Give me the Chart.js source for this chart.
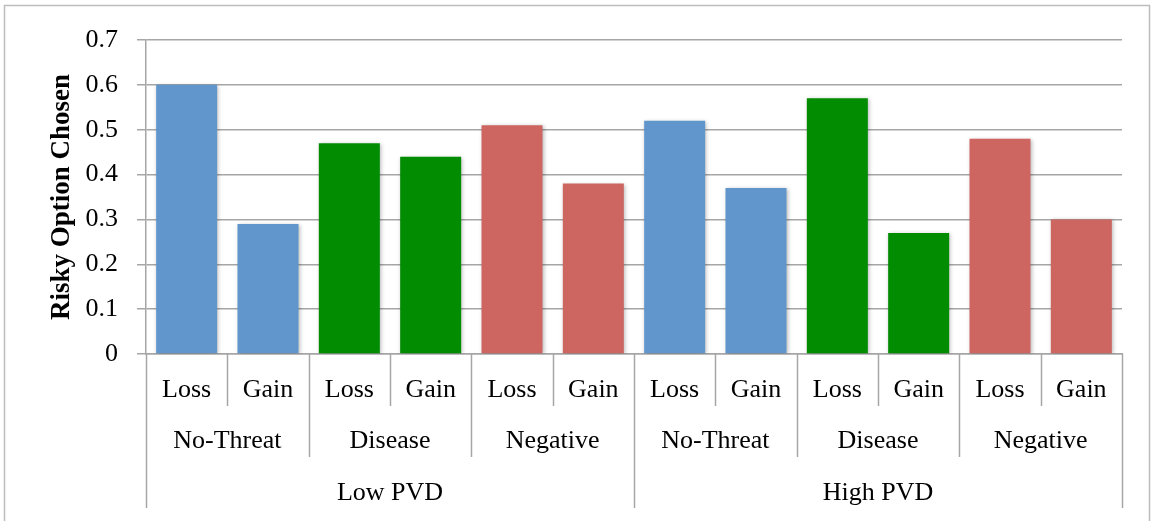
<!DOCTYPE html>
<html>
<head>
<meta charset="utf-8">
<script src="https://cdn.jsdelivr.net/npm/chart.js@4.4.1/dist/chart.umd.min.js"></script>
<style>
  html, body { margin: 0; padding: 0; background: #fff; }
  #wrap { width: 1154px; height: 521px; position: relative; }
</style>
</head>
<body>
<div id="wrap"><canvas id="riskChart"></canvas></div>
<script>
// data
const subLabels = ['Loss', 'Gain', 'Loss', 'Gain', 'Loss', 'Gain', 'Loss', 'Gain', 'Loss', 'Gain', 'Loss', 'Gain']
const groupLabels = ['No-Threat', 'Disease', 'Negative', 'No-Threat', 'Disease', 'Negative']
const pvdLabels = ['Low PVD', 'High PVD']
const riskyChosen = [0.60, 0.29, 0.47, 0.44, 0.51, 0.38, 0.52, 0.37, 0.57, 0.27, 0.48, 0.30]

const groupColors = ['#6096CB', '#018C02', '#CD6661']
const lineGray = '#A6A6A6'
const labelFont = '26px "Liberation Serif", serif'

// draws the 3 rows of category labels under the axis + the separators
const multiLevelAxis = {
  id: 'multiLevelAxis',
  beforeDraw(chart) {
    const ctx = chart.ctx
    ctx.save()
    ctx.strokeStyle = '#BDBDBD'
    ctx.lineWidth = 1.5
    ctx.strokeRect(4.5, 5.5, 1145, 530)
    ctx.restore()
  },
  beforeDatasetsDraw(chart) {
    const ctx = chart.ctx
    ctx.save()
    ctx.shadowColor = 'rgba(0,0,0,0.28)'
    ctx.shadowBlur = 4
    ctx.shadowOffsetX = 1
    ctx.shadowOffsetY = 1
  },
  afterDatasetsDraw(chart) {
    chart.ctx.restore()
  },
  afterDraw(chart) {
    const ctx = chart.ctx
    const area = chart.chartArea
    const x = chart.scales.x
    const n = subLabels.length
    const w = (area.right - area.left) / n
    const groupSpan = n / groupLabels.length
    const pvdSpan = n / pvdLabels.length

    ctx.save()
    ctx.strokeStyle = lineGray
    ctx.lineWidth = 1.5
    for (let k = 0; k <= n; k++) {
      const bx = Math.round(area.left + k * w) + 0.5
      let depth = 406
      if (k % pvdSpan === 0) depth = 508
      else if (k % groupSpan === 0) depth = 457
      ctx.beginPath()
      ctx.moveTo(bx, area.bottom)
      ctx.lineTo(bx, depth)
      ctx.stroke()
    }

    ctx.fillStyle = '#000'
    ctx.font = labelFont
    ctx.textAlign = 'center'
    ctx.textBaseline = 'middle'
    subLabels.forEach((lab, i) => {
      ctx.fillText(lab, x.getPixelForValue(i), 390)
    })
    groupLabels.forEach((lab, g) => {
      const cx = area.left + (g + 0.5) * groupSpan * w
      ctx.fillText(lab, cx, 441)
    })
    pvdLabels.forEach((lab, p) => {
      const cx = area.left + (p + 0.5) * pvdSpan * w
      ctx.fillText(lab, cx, 493)
    })
    ctx.restore()
  }
}

const chart = new Chart(document.getElementById('riskChart').getContext('2d'), {
  type: 'bar',
  data: {
    labels: subLabels,
    datasets: [{
      data: riskyChosen,
      backgroundColor: c => groupColors[Math.floor(c.dataIndex / 2) % groupColors.length],
      barPercentage: 0.75,
      categoryPercentage: 1.0,
      borderWidth: 0
    }]
  },
  options: {
    responsive: true,
    maintainAspectRatio: false,
    animation: false,
    layout: {
      padding: { left: 0, top: 40, right: 32, bottom: 167 }
    },
    plugins: {
      legend: { display: false },
      tooltip: { enabled: false }
    },
    scales: {
      x: {
        type: 'category',
        ticks: { display: false },
        grid: { display: false },
        border: { display: true, color: lineGray, width: 1.5 },
        afterFit: s => { s.height = 0 }
      },
      y: {
        min: 0,
        max: 0.7,
        ticks: {
          stepSize: 0.1,
          color: '#000',
          padding: 19,
          font: { family: '"Liberation Serif", serif', size: 26 },
          callback: v => Math.round(v * 10) / 10
        },
        grid: {
          color: lineGray,
          lineWidth: 1.5,
          tickLength: 9
        },
        border: { color: lineGray, width: 1.5 },
        title: {
          display: true,
          text: 'Risky Option Chosen',
          color: '#000',
          font: { family: '"Liberation Serif", serif', size: 27, weight: 'bold' },
          padding: { top: 46, bottom: 0 }
        },
        afterFit: s => { s.width = 146 }
      }
    }
  },
  plugins: [multiLevelAxis]
})
</script>
</body>
</html>
